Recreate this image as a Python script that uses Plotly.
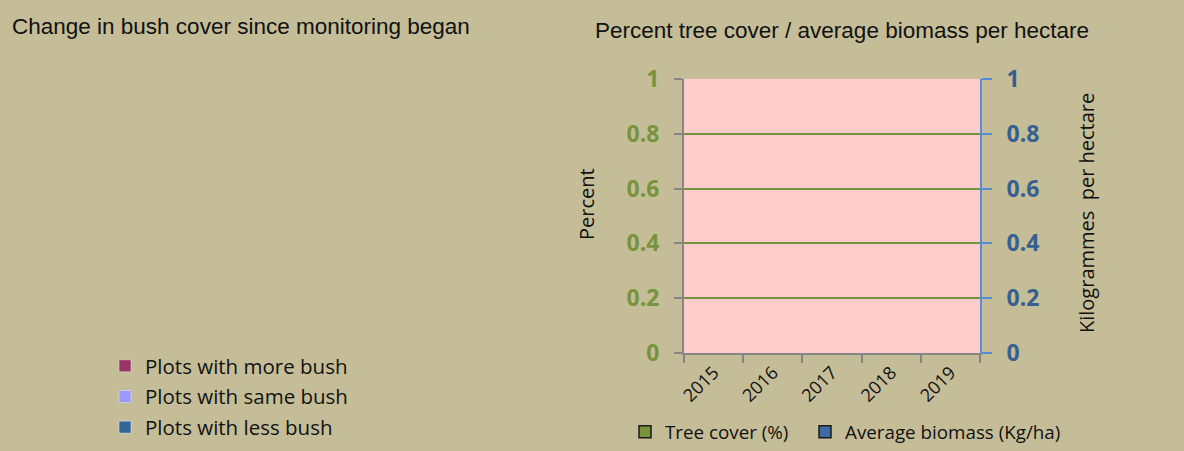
import plotly.graph_objects as go

# --- data (the source chart is empty: no values recorded yet) ---
years = ["2015", "2016", "2017", "2018", "2019"]
tree_cover = [None, None, None, None, None]
avg_biomass = [None, None, None, None, None]

bush_labels = ["Plots with more bush", "Plots with same bush", "Plots with less bush"]
bush_values = [None, None, None]
bush_colors = ["#993366", "#9999ff", "#336699"]

BG = "#c4bd97"
GREEN = "#77933c"
BLUE = "#376092"
W, H = 1184, 451


def px_x(p):
    return p / W


def px_y(p):
    return 1 - p / H


fig = go.Figure()

# left panel: bush cover breakdown (no data yet, only the legend shows)
for label, val, col in zip(bush_labels, bush_values, bush_colors):
    fig.add_trace(go.Bar(
        x=[years[0]], y=[val], name=label,
        marker=dict(color=col),
        legend="legend", legendgroup=label,
        hoverinfo="skip",
    ))

# right panel: tree cover / biomass columns
fig.add_trace(go.Bar(
    x=years, y=tree_cover, name="Tree cover (%)",
    marker=dict(color=GREEN, line=dict(color="#1a1a1a", width=1.5)),
    legend="legend2",
))
fig.add_trace(go.Bar(
    x=years, y=avg_biomass, name="Average biomass (Kg/ha)",
    marker=dict(color="#3d6aa5", line=dict(color="#1a1a1a", width=1.5)),
    yaxis="y2",
    legend="legend3",
))

tick_font = dict(family="Open Sans", size=23)
legend_base = dict(
    bgcolor="rgba(0,0,0,0)",
    itemclick=False, itemdoubleclick=False,
)

fig.update_layout(
    width=W, height=H,
    margin=dict(l=0, r=0, t=0, b=0, autoexpand=False),
    paper_bgcolor=BG,
    plot_bgcolor="#ffcccc",
    font=dict(family="Open Sans", color="#111111"),
    xaxis=dict(
        domain=[px_x(684), px_x(980)],
        type="category",
        categoryorder="array", categoryarray=years,
        range=[-0.5, 4.5],
        tickson="boundaries",
        ticks="outside", ticklen=8, tickcolor="#868686", tickwidth=2,
        showline=True, linecolor="#868686", linewidth=2,
        showgrid=False,
        tickangle=-45,
        tickfont=dict(family="Open Sans", size=18, color="#111111"),
        fixedrange=True,
    ),
    yaxis=dict(
        domain=[px_y(353), px_y(79)],
        range=[0, 1], dtick=0.2,
        ticks="outside", ticklen=8, tickcolor="#868686", tickwidth=2,
        showline=True, linecolor="#868686", linewidth=2,
        showgrid=True, gridcolor=GREEN, gridwidth=2,
        zeroline=False,
        tickfont=dict(tick_font, color=GREEN, weight="bold"),
        ticklabelstandoff=10,
        fixedrange=True,
    ),
    yaxis2=dict(
        overlaying="y", side="right",
        range=[0, 1], dtick=0.2,
        ticks="outside", ticklen=10, tickcolor="#558ed5", tickwidth=2,
        showline=True, linecolor="#558ed5", linewidth=2,
        showgrid=False, zeroline=False,
        tickfont=dict(tick_font, color=BLUE, weight="bold"),
        ticklabelstandoff=10,
        fixedrange=True,
    ),
    legend=dict(
        legend_base,
        x=px_x(105), y=px_y(346), xanchor="left", yanchor="top",
        font=dict(family="Open Sans", size=20.5, color="#111111"),
        tracegroupgap=1,
    ),
    legend2=dict(
        legend_base,
        orientation="h",
        x=px_x(625), y=px_y(432), xanchor="left", yanchor="middle",
        font=dict(family="Open Sans", size=18.8, color="#111111"),
    ),
    legend3=dict(
        legend_base,
        orientation="h",
        x=px_x(805), y=px_y(432), xanchor="left", yanchor="middle",
        font=dict(family="Open Sans", size=18.8, color="#111111"),
    ),
    showlegend=True,
    annotations=[
        dict(text="Change in bush cover since monitoring began",
             x=px_x(10), y=px_y(27), xref="paper", yref="paper",
             xanchor="left", yanchor="middle", showarrow=False,
             font=dict(family="Liberation Sans", size=22.5, color="#111111")),
        dict(text="Percent tree cover / average biomass per hectare",
             x=px_x(842), y=px_y(31), xref="paper", yref="paper",
             xanchor="center", yanchor="middle", showarrow=False,
             font=dict(family="Liberation Sans", size=22.5, color="#111111")),
        dict(text="Percent",
             x=px_x(586), y=px_y(204), xref="paper", yref="paper",
             xanchor="center", yanchor="middle", showarrow=False, textangle=-90,
             font=dict(family="Open Sans", size=20, color="#111111")),
        dict(text="Kilogrammes&nbsp;&nbsp;per hectare",
             x=px_x(1086), y=px_y(213), xref="paper", yref="paper",
             xanchor="center", yanchor="middle", showarrow=False, textangle=-90,
             font=dict(family="Open Sans", size=20, color="#111111")),
    ],
)

# page body has a default 8px margin; drop it so the chart fills the window
fig.write_html("out.html", config=dict(displayModeBar=False),
               post_script="document.body.style.margin='0';")
